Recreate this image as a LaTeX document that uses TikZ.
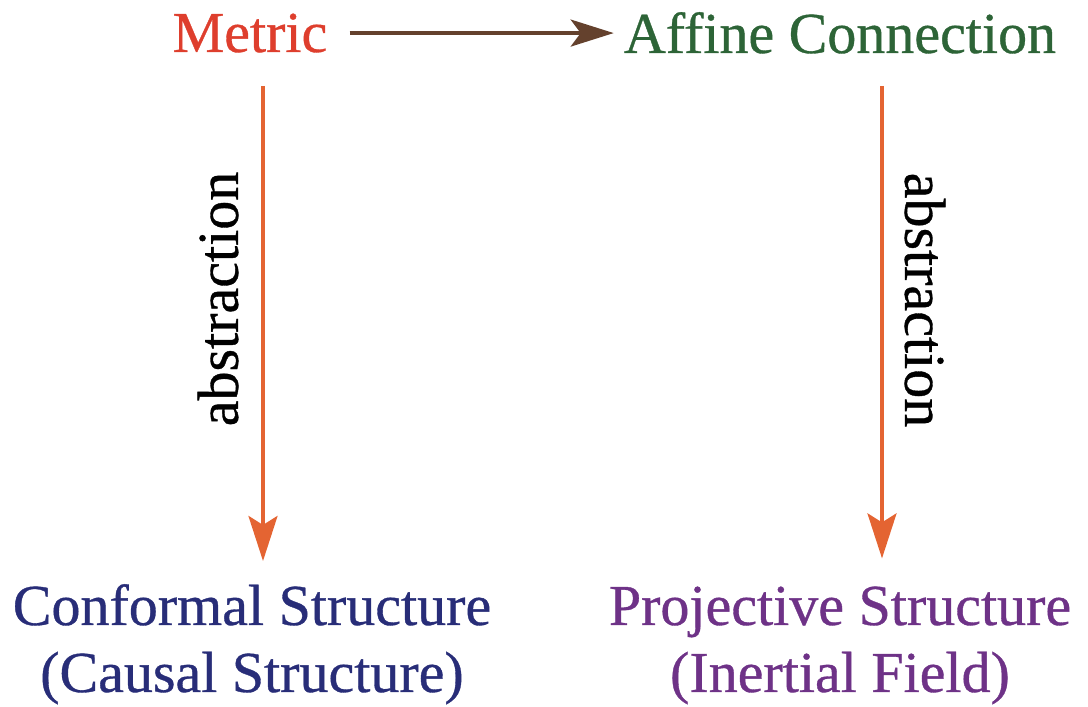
\documentclass[tikz,border=0pt]{standalone}
\usepackage{fontspec}
\setmainfont{Liberation Serif}[FakeBold=0.6]
\usetikzlibrary{arrows.meta,calc}
\definecolor{cmetric}{RGB}{222,62,45}
\definecolor{caffine}{RGB}{45,100,55}
\definecolor{cconf}{RGB}{40,45,120}
\definecolor{cproj}{RGB}{110,50,135}
\definecolor{cbrown}{RGB}{100,65,45}
\definecolor{corange}{RGB}{228,100,50}
\tikzset{
  lbl/.style={inner sep=0pt, font=\fontsize{58}{67}\selectfont, align=center},
  brownarrow/.style={draw=cbrown, line width=3.5pt, -{Stealth[length=43pt, width=27pt, inset=10pt]}},
  orangearrow/.style={draw=corange, line width=3.5pt, -{Stealth[length=45pt, width=29pt, inset=9pt]}},
}
\begin{document}
\begin{tikzpicture}[x=1pt,y=1pt]
\useasboundingbox (0,0) rectangle (1088,707);
\node[lbl, text=cmetric, anchor=base] (metric) at (250,655) {Metric};
\node[lbl, text=caffine, anchor=base] (affine) at (840,654) {Affine Connection};
\node[lbl, text=cconf, anchor=base] (conf) at (252,15) {Conformal Structure\\(Causal Structure)};
\node[lbl, text=cproj, anchor=base] (proj) at (840,15) {Projective Structure\\(Inertial Field)};
\node[lbl, rotate=90] (absl) at (218,408) {abstraction};
\node[lbl, rotate=-90] (absr) at (925,407) {abstraction};
\draw[brownarrow] ([xshift=22pt]metric.east) -- ([xshift=-10pt]metric.east -| affine.west);
\draw[orangearrow] ($(metric.south)+(13,-33)$) -- ($(metric.south |- conf.north)+(13,23)$);
\draw[orangearrow] ($(affine.south)+(42,-32)$) -- ($(affine.south |- proj.north)+(42,28)$);
\end{tikzpicture}
\end{document}
